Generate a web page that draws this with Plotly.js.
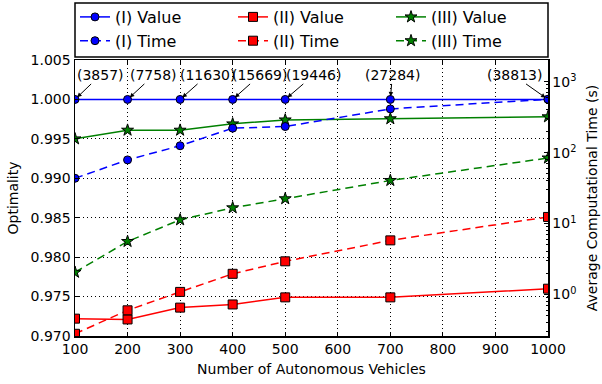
<!DOCTYPE html>
<html>
<head>
<meta charset="utf-8">
<script src="https://cdn.plot.ly/plotly-3.0.1.min.js"></script>
<style>html,body{margin:0;padding:0;background:#fff;}#chart{width:602px;height:384px;}</style>
</head>
<body>
<div id="chart"></div>
<script>
// ---- data ----
var vehicles = [100, 200, 300, 400, 500, 700, 1000];
var valueI   = [1.0, 1.0, 1.0, 1.0, 1.0, 1.0, 1.0];
var valueII  = [0.9722, 0.9721, 0.9736, 0.9740, 0.9749, 0.9749, 0.9760];
var valueIII = [0.9950, 0.9961, 0.9961, 0.9969, 0.9974, 0.99755, 0.9978];
var timeI    = [43.5, 79, 125, 221, 233, 413, 565];
var timeII   = [0.28, 0.60, 1.09, 1.96, 2.94, 5.8, 12.4];
var timeIII  = [2.06, 5.6, 11.3, 16.7, 22.4, 40.5, 84];
var counts   = ['(3857)', '(7758)', '(11630)', '(15669)', '(19446)', '(27284)', '(38813)'];
var xTicks   = [100, 200, 300, 400, 500, 600, 700, 800, 900, 1000];
var y2Ticks  = [1, 10, 100, 1000];
var y2TickText = ['10<sup>0</sup>', '10<sup>1</sup>', '10<sup>2</sup>', '10<sup>3</sup>'];

var BLUE = '#0000ff', RED = '#ff0000', GREEN = '#008000';
var FONT = 'DejaVu Sans, sans-serif';

function tr(name, y, color, symbol, size, dash, axis) {
  return {
    x: vehicles, y: y, name: name, type: 'scatter', mode: 'lines+markers',
    yaxis: axis,
    line: {color: color, width: 1.5, dash: dash},
    marker: {color: color, symbol: symbol, size: size, line: {color: '#000', width: 1}}
  };
}
var DASH = '8px,5px';
var data = [
  tr('(I) Value',   valueI,   BLUE,  'circle', 8, 'solid', 'y'),
  tr('(II) Value',  valueII,  RED,   'square', 9, 'solid', 'y'),
  tr('(III) Value', valueIII, GREEN, 'star',   9, 'solid', 'y'),
  tr('(I) Time',    timeI,    BLUE,  'circle', 8, DASH, 'y2'),
  tr('(II) Time',   timeII,   RED,   'square', 9, DASH, 'y2'),
  tr('(III) Time',  timeIII,  GREEN, 'star',   9, DASH, 'y2')
];

// annotation text offsets from the marked point (pixels)
var textAx = [25, 26, 27, 27, 28, 2, -34];
var textAy = -24;
var annotations = [];
for (var i = 0; i < vehicles.length; i++) {
  annotations.push({
    x: vehicles[i], y: valueI[i], xref: 'x', yref: 'y',
    text: counts[i], showarrow: true, ax: textAx[i], ay: textAy,
    arrowhead: 2, arrowsize: 0.9, arrowwidth: 1, arrowcolor: '#000', standoff: 3,
    borderpad: 0,
    font: {family: FONT, size: 14, color: '#000'}
  });
}

var minorVals = [];
for (var d = -1; d <= 3; d++) {
  for (var k = 2; k <= 9; k++) minorVals.push(k * Math.pow(10, d));
}

var layout = {
  width: 602, height: 384,
  margin: {l: 75, r: 54, t: 60, b: 47.5},
  paper_bgcolor: '#fff', plot_bgcolor: '#fff',
  font: {family: FONT, size: 14, color: '#000'},
  showlegend: true,
  legend: {
    orientation: 'h', xref: 'paper', x: 0, xanchor: 'left',
    yref: 'container', y: 1, yanchor: 'top',
    borderwidth: 0, bgcolor: 'rgba(0,0,0,0)',
    font: {family: FONT, size: 16, color: '#000'},
    entrywidth: 113, entrywidthmode: 'pixels', tracegroupgap: 0
  },
  shapes: [{
    type: 'rect', xref: 'paper', yref: 'paper',
    x0: 0, x1: 1, y0: 1 + 3 / 276.5, y1: 1 + 57 / 276.5,
    line: {color: '#000', width: 1.5}, fillcolor: 'rgba(0,0,0,0)'
  }],
  xaxis: {
    range: [100, 1000], tickmode: 'array', tickvals: xTicks,
    ticks: 'inside', ticklen: 4, tickcolor: '#000',
    showline: true, linecolor: '#000', linewidth: 1.5, mirror: 'ticks',
    showgrid: true, gridcolor: '#000', gridwidth: 1, griddash: '1px,3px',
    zeroline: false,
    tickfont: {family: FONT, size: 14},
    title: {text: 'Number of Autonomous Vehicles', font: {family: FONT, size: 14}, standoff: 8}
  },
  yaxis: {
    range: [0.970, 1.005], dtick: 0.005, tickformat: '.3f',
    ticks: 'inside', ticklen: 4, tickcolor: '#000',
    showline: true, linecolor: '#000', linewidth: 1.5,
    showgrid: true, gridcolor: '#000', gridwidth: 1, griddash: '1px,3px',
    zeroline: false,
    tickfont: {family: FONT, size: 14},
    title: {text: 'Optimality', font: {family: FONT, size: 14}, standoff: 8}
  },
  yaxis2: {
    type: 'log', overlaying: 'y', side: 'right',
    range: [-0.584, 3.305],
    tickmode: 'array', tickvals: y2Ticks, ticktext: y2TickText,
    ticks: 'inside', ticklen: 4, tickcolor: '#000',
    minor: {tickmode: 'array', tickvals: minorVals, ticks: 'inside', ticklen: 2, tickcolor: '#000', showgrid: false},
    showline: true, linecolor: '#000', linewidth: 1.5,
    showgrid: false, zeroline: false,
    tickfont: {family: FONT, size: 14},
    title: {text: 'Average Computational Time (s)', font: {family: FONT, size: 14}, standoff: 12}
  },
  annotations: annotations
};

Plotly.newPlot('chart', data, layout, {displayModeBar: false, staticPlot: true});
</script>
</body>
</html>
